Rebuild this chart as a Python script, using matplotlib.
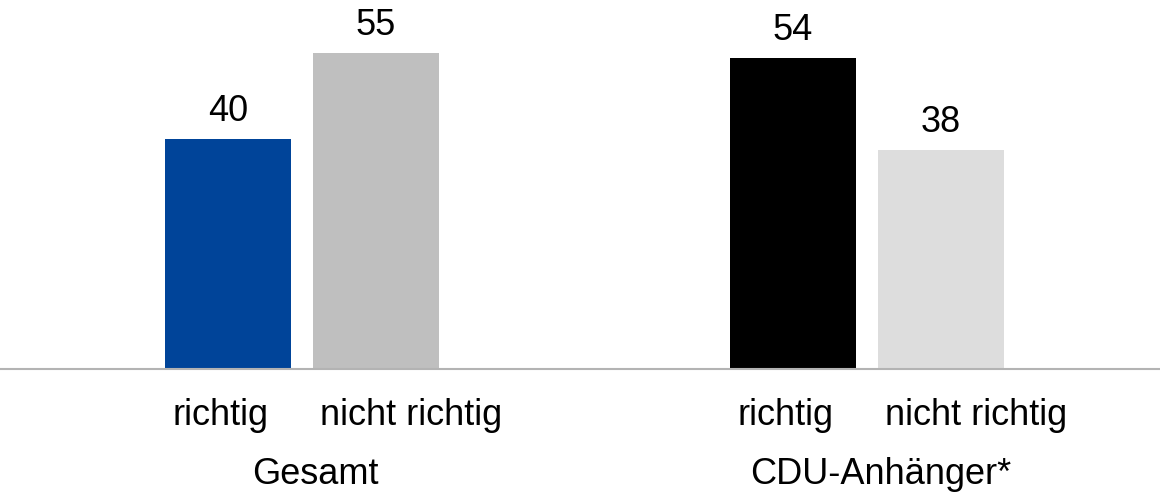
import matplotlib
matplotlib.use("Agg")
import matplotlib.pyplot as plt

groups = ["Gesamt", "CDU-Anhänger*"]
answers = ["richtig", "nicht richtig"]
values = [[40, 55], [54, 38]]
colors = [["#004499", "#bfbfbf"], ["#000000", "#dddddd"]]

plt.rcParams['font.family'] = ['Liberation Sans', 'DejaVu Sans']
FS = 26

fig = plt.figure(figsize=(11.6, 4.92), dpi=100)
ax = fig.add_axes([0, 0.25, 1, 0.75])

group_gap = 3.818
width = 0.851
label_dx = [-7.5, 35]

for gi, g in enumerate(groups):
    xs = []
    for bi, a in enumerate(answers):
        x = gi * group_gap + bi
        xs.append(x)
        v = values[gi][bi]
        ax.bar(x, v, width=width, color=colors[gi][bi], zorder=2)
        ax.annotate(str(v), xy=(x, v), xytext=(0, 18), textcoords='offset pixels',
                    ha='center', va='baseline', fontsize=FS, color='black')
        ax.annotate(a, xy=(x, 0), xytext=(label_dx[bi], -56), textcoords='offset pixels',
                    ha='center', va='baseline', fontsize=FS, color='black',
                    annotation_clip=False)
    ax.annotate(g, xy=(sum(xs) / 2, 0), xytext=((label_dx[0] + label_dx[1]) / 2, -115),
                textcoords='offset pixels', ha='center', va='baseline', fontsize=FS,
                color='black', annotation_clip=False)

ax.set_xlim(-1.541, 6.297)
ax.set_ylim(0, 64.17)
for s in ['top', 'right', 'left']:
    ax.spines[s].set_visible(False)
ax.spines['bottom'].set_color('#b3b3b3')
ax.spines['bottom'].set_linewidth(1.5)
ax.spines['bottom'].set_zorder(3)
ax.set_xticks([])
ax.set_yticks([])
ax.patch.set_alpha(0)

fig.savefig("out.png", dpi=100)
